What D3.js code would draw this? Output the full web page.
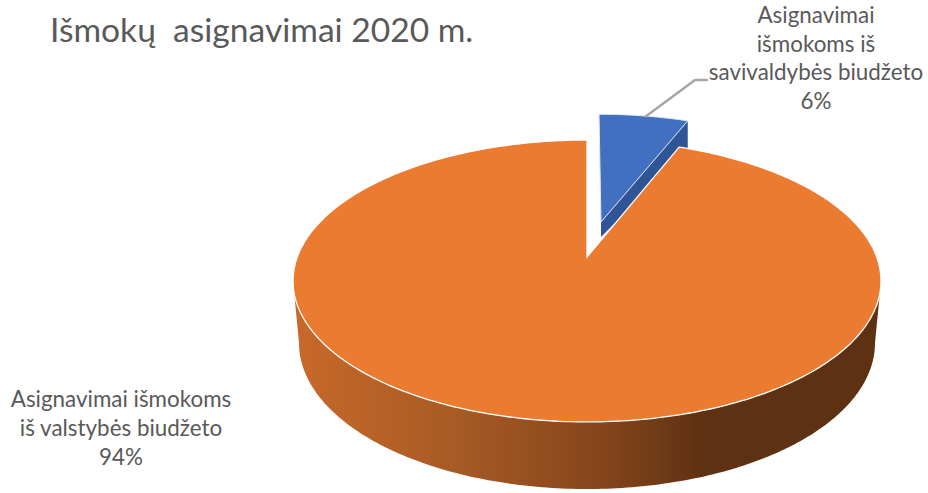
<!DOCTYPE html>
<html>
<head>
<meta charset="utf-8">
<script src="https://cdn.jsdelivr.net/npm/d3@7"></script>
<style>
html, body { margin: 0; padding: 0; background: #fff; }
svg { display: block; }
text { font-family: "Lato", "Open Sans", sans-serif; fill: #595959; }
</style>
</head>
<body>
<div id="vis"></div>
<script>
const title = "Išmokų  asignavimai 2020 m.";
const categories = ["Asignavimai išmokoms iš savivaldybės biudžeto", "Asignavimai išmokoms iš valstybės biudžeto"];
const values = [6, 94];
const pctLabels = ["6%", "94%"];

const width = 928, height = 493;
const svg = d3.select("#vis").append("svg").attr("width", width).attr("height", height);

const colors = ["#4270c0", "#ea7b31"];
const sideSmall = "#2f5597";

// the pie lies flat and is seen in perspective, so the centre of the disc
// does not project to the centre of the ellipse
const cx = 587, cy = 257, X = 289.7, Y = 136.9, k = 0.17;
function project(u, v) {
    const d = 1 - k * v;
    return [cx + X * u / d, cy + Y * v / d];
}
// point of the rim at pie angle a, disc moved by (du,dv)
function rim(a, du, dv) {
    return project(du + Math.sin(a), dv - Math.cos(a));
}
function arcPoints(a0, a1, du, dv) {
    const n = Math.max(2, Math.ceil((a1 - a0) * 60));
    return d3.range(n + 1).map(i => rim(a0 + (a1 - a0) * i / n, du, dv));
}
const line = d3.line();

const pie = d3.pie().sort(null).value(d => d)(values);

const defs = svg.append("defs");
const grad = defs.append("linearGradient").attr("id", "side")
    .attr("gradientUnits", "userSpaceOnUse")
    .attr("x1", 294).attr("x2", 881).attr("y1", 0).attr("y2", 0);
[[0, "#c8692a"], [0.27, "#a85b24"], [0.53, "#84451b"], [0.7, "#5e3112"], [1, "#5e3112"]].forEach(s => {
    grad.append("stop").attr("offset", s[0]).attr("stop-color", s[1]);
});

// side wall of the big slice: front half of upper rim, then lower rim back
const ellCy = 281, ellRy = 141, ellRx = 294;
const lowCy = 343, lowRy = 146, lowRx = 288;
const upper = d3.range(181).map(d => {
    const t = d * Math.PI / 180;
    return [cx + ellRx * Math.cos(t), ellCy + ellRy * Math.sin(t)];
});
const lower = d3.range(180, -1, -1).map(d => {
    const t = d * Math.PI / 180;
    return [cx + lowRx * Math.cos(t), lowCy + lowRy * Math.sin(t)];
});
svg.append("path").attr("d", line(upper.concat(lower)) + "Z").attr("fill", "url(#side)");

// exploded small slice
const du = 0.0505, dv = -0.267;
const apex = project(du, dv);
const corner = rim(pie[0].endAngle, du, dv);
svg.append("path")
    .attr("d", line([apex, corner, [corner[0], corner[1] + 30], [apex[0], apex[1] + 15]]) + "Z")
    .attr("fill", sideSmall);
svg.append("path")
    .attr("d", line([apex].concat(arcPoints(pie[0].startAngle, pie[0].endAngle, du, dv))) + "Z")
    .attr("fill", colors[0])
    .attr("stroke", "#dfe6f3").attr("stroke-width", 1);

// big slice top
svg.append("path")
    .attr("d", line([project(0, 0)].concat(arcPoints(pie[1].startAngle, pie[1].endAngle, 0, 0))) + "Z")
    .attr("fill", colors[1])
    .attr("stroke", "#fff").attr("stroke-width", 1.3);

// leader line
svg.append("path")
    .attr("d", line([[645, 117], [695, 80], [708, 80]]))
    .attr("fill", "none").attr("stroke", "#a6a6a6").attr("stroke-width", 2.5);

// title
svg.append("text").attr("x", 50).attr("y", 42).attr("font-size", 33.6)
    .style("white-space", "pre").text(title);

// labels
const lab1 = ["Asignavimai", "išmokoms iš", "savivaldybės biudžeto", pctLabels[0]];
svg.append("g").selectAll("text").data(lab1).enter().append("text")
    .attr("x", 816).attr("y", (d, i) => 23 + i * 28.5)
    .attr("text-anchor", "middle").attr("font-size", 22.4).text(d => d);
const lab2 = ["Asignavimai išmokoms", "iš valstybės biudžeto", pctLabels[1]];
svg.append("g").selectAll("text").data(lab2).enter().append("text")
    .attr("x", 121).attr("y", (d, i) => 407 + i * 29)
    .attr("text-anchor", "middle").attr("font-size", 22.4).text(d => d);
</script>
</body>
</html>
